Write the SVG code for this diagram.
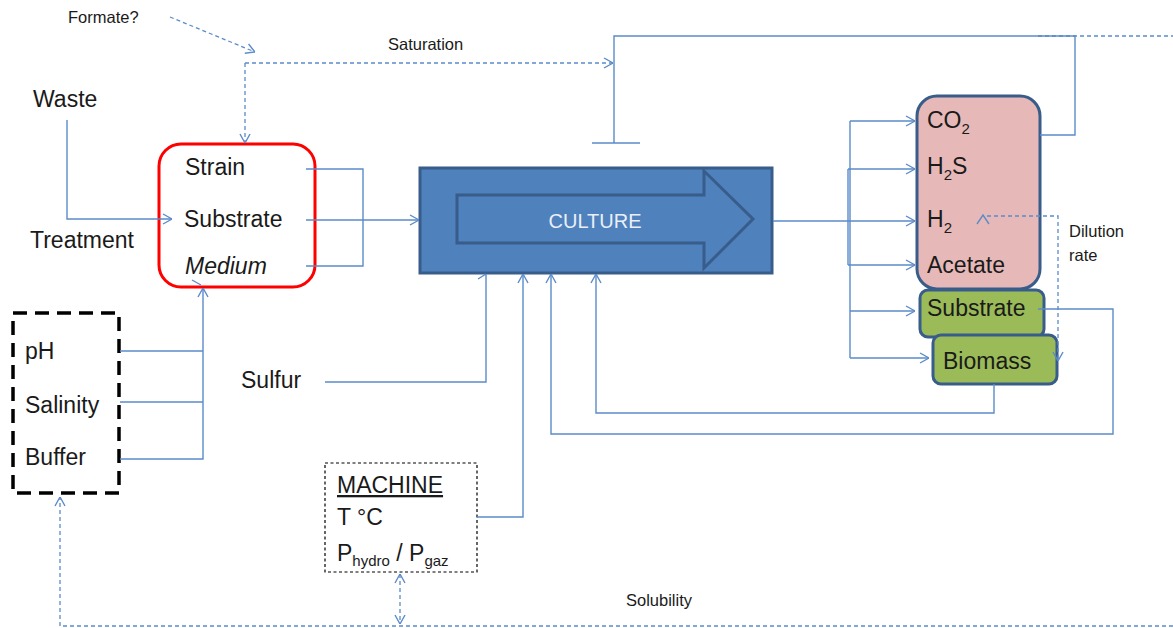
<svg xmlns="http://www.w3.org/2000/svg" width="1173" height="628" viewBox="0 0 1173 628">
<style>
text{font-family:"Liberation Sans",Arial,sans-serif;fill:#1a1a1a}
.big{font-size:23px}
.sm{font-size:16.5px}
.ln{fill:none;stroke:#5b8bc9;stroke-width:1.4}
.dl{fill:none;stroke:#5b8bc9;stroke-width:1.3;stroke-dasharray:4 3}
</style>
<defs>
<marker id="a" viewBox="0 0 10 12" refX="10" refY="6" markerWidth="10" markerHeight="12" orient="auto" markerUnits="userSpaceOnUse">
<path d="M1,1 L10,6 L1,11" fill="none" stroke="#5b8bc9" stroke-width="1.4"/>
</marker>
<marker id="as" viewBox="0 0 10 12" refX="10" refY="6" markerWidth="10" markerHeight="12" orient="auto-start-reverse" markerUnits="userSpaceOnUse">
<path d="M1,1 L10,6 L1,11" fill="none" stroke="#5b8bc9" stroke-width="1.4"/>
</marker>
</defs>
<rect width="1173" height="628" fill="#fff"/>

<g id="labels">
<text class="sm" x="68" y="23">Formate?</text>
<text class="sm" x="388" y="50">Saturation</text>
<text class="big" x="33" y="107">Waste</text>
<text class="big" x="30" y="248">Treatment</text>
<text class="big" x="241" y="388">Sulfur</text>
<text class="sm" x="1069" y="237">Dilution</text>
<text class="sm" x="1069" y="261">rate</text>
<text class="sm" x="626" y="606">Solubility</text>
</g>

<g id="inputs">
<rect x="159" y="144" width="156" height="143" rx="22" fill="#fff" stroke="#ff0000" stroke-width="3"/>
<text class="big" x="185" y="175">Strain</text>
<text class="big" x="184" y="227">Substrate</text>
<text class="big" x="185" y="274" font-style="italic">Medium</text>
</g>

<g id="conditions">
<rect x="13" y="313" width="106" height="180" fill="none" stroke="#000" stroke-width="3.5" stroke-dasharray="14 8"/>
<text class="big" x="25" y="359">pH</text>
<text class="big" x="25" y="413">Salinity</text>
<text class="big" x="25" y="465">Buffer</text>
</g>

<g id="culture">
<rect x="420" y="168" width="352" height="105" fill="#4f81bd" stroke="#385d8a" stroke-width="3"/>
<polygon points="457,195 704,195 704,171 753,219 704,268 704,243 457,243" fill="#4f81bd" stroke="#385d8a" stroke-width="3"/>
<text x="595" y="228" text-anchor="middle" style="font-size:20px;fill:#e9eff8">CULTURE</text>
</g>

<g id="products">
<rect x="917" y="96" width="123" height="193" rx="20" fill="#e6b9b8" stroke="#385d8a" stroke-width="3"/>
<text class="big" x="927" y="128">CO<tspan font-size="15" dy="6">2</tspan></text>
<text class="big" x="927" y="174">H<tspan font-size="15" dy="6">2</tspan><tspan dy="-6">S</tspan></text>
<text class="big" x="927" y="227">H<tspan font-size="15" dy="6">2</tspan></text>
<text class="big" x="927" y="273">Acetate</text>
</g>

<g id="substrate-out">
<rect x="920" y="290" width="124" height="47" rx="8" fill="#9bbb59" stroke="#385d8a" stroke-width="3"/>
<text class="big" x="927" y="316">Substrate</text>
</g>

<g id="biomass">
<rect x="933" y="335" width="124" height="49" rx="8" fill="#9bbb59" stroke="#385d8a" stroke-width="3"/>
<text class="big" x="943" y="369">Biomass</text>
</g>

<g id="machine">
<rect x="325" y="463" width="152" height="109" fill="#fff" stroke="#000" stroke-width="1.2" stroke-dasharray="3 2.5"/>
<text class="big" x="337" y="493" text-decoration="underline">MACHINE</text>
<text class="big" x="337" y="525">T °C</text>
<text class="big" x="337" y="561">P<tspan font-size="15" dy="5">hydro</tspan><tspan dy="-5"> / P</tspan><tspan font-size="15" dy="5">gaz</tspan></text>
</g>

<g id="connectors">
<!-- Formate / saturation dashed -->
<path class="dl" d="M170,17 L255,52" marker-end="url(#a)"/>
<path class="dl" d="M245,63 L613,63" marker-end="url(#a)"/>
<path class="dl" d="M245,63 L245,143" marker-end="url(#a)"/>
<!-- Saturation inhibition -->
<path class="ln" d="M592,143 L640,143 M614,143 L614,36 L1075,36 L1075,135 L1040,135"/>
<path class="dl" d="M1038,36 L1173,36"/>
<!-- Waste -->
<path class="ln" d="M67,120 L67,219 L172,219" marker-end="url(#a)"/>
<!-- Red box to culture -->
<path class="ln" d="M306,169 L363,169 L363,266 L306,266"/>
<path class="ln" d="M306,220 L419,220" marker-end="url(#a)"/>
<!-- conditions -->
<path class="ln" d="M120,351 L203,351 M120,402 L203,402 M120,459 L203,459 L203,351"/>
<path class="ln" d="M203,351 L203,288" stroke-width="2.2" marker-end="url(#a)"/>
<path class="ln" d="M192,280 L201,285"/>
<!-- Sulfur -->
<path class="ln" d="M325,382 L486,382 L486,274 M478,279 L486,274"/>
<!-- Machine -->
<path class="ln" d="M477,517 L523,517 L523,274" marker-end="url(#a)"/>
<!-- feedbacks -->
<path class="ln" d="M994,384 L994,413 L596,413 L596,274" marker-end="url(#a)"/>
<path class="ln" d="M1038,309 L1113,309 L1113,434 L551,434 L551,274" marker-end="url(#a)"/>
<!-- culture to products -->
<path class="ln" d="M773,221 L850,221 M850,121 L850,358 M848,169 L848,265"/>
<path class="ln" d="M850,121 L915,121" marker-end="url(#a)"/>
<path class="ln" d="M848,169 L915,169" marker-end="url(#a)"/>
<path class="ln" d="M850,221 L915,221" marker-end="url(#a)"/>
<path class="ln" d="M848,265 L915,265" marker-end="url(#a)"/>
<path class="ln" d="M850,311 L915,311" marker-end="url(#a)"/>
<path class="ln" d="M850,358 L929,358" marker-end="url(#a)"/>
<!-- dilution rate -->
<path class="dl" d="M987,216 L1058,216 L1058,361" marker-end="url(#a)"/>
<path class="ln" d="M977,224 L983,215 L989,224" stroke-width="1.3"/>
<!-- solubility -->
<path class="dl" d="M1173,626 L60,626 L60,497" marker-end="url(#a)"/>
<path class="dl" d="M400,574 L400,624" marker-start="url(#as)" marker-end="url(#a)"/>
</g>
</svg>
